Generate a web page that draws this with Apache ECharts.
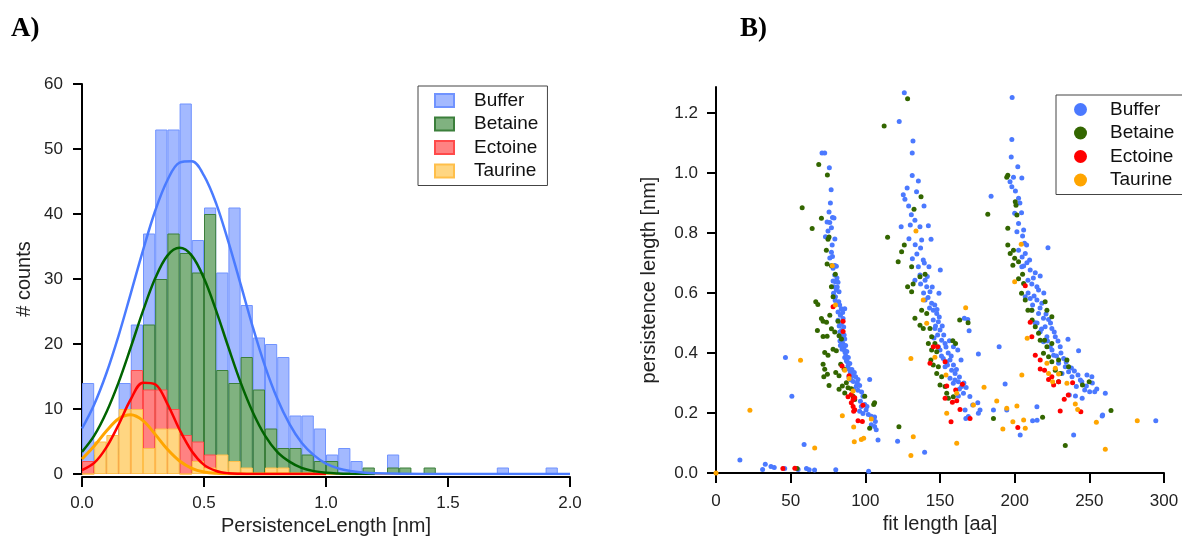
<!DOCTYPE html>
<html><head><meta charset="utf-8">
<script src="https://cdn.jsdelivr.net/npm/echarts@6/dist/echarts.min.js"></script>
<style>html,body{margin:0;padding:0;background:#fff}#c{width:1182px;height:536px}</style>
</head><body><div id="c"></div><script>
// ---------- Panel A: histogram (bin starts, width 0.05 nm) ----------
const binStarts = ['0.00','0.05','0.10','0.15','0.20','0.25','0.30','0.35','0.40','0.45',
  '0.50','0.55','0.60','0.65','0.70','0.75','0.80','0.85','0.90','0.95',
  '1.00','1.05','1.10','1.15','1.20','1.25','1.30','1.35','1.40','1.45',
  '1.50','1.55','1.60','1.65','1.70','1.75','1.80','1.85','1.90','1.95'];
const bufferCounts  = [14,4,5,14,23,37,53,53,57,36,41,31,41,26,21,20,18,9,9,7,3,4,2,0,0,3,0,0,0,0,0,0,0,0,1,0,0,0,1,0];
const betaineCounts = [1,3,4,7,12,23,30,37,34,31,40,16,14,18,13,7,4,4,3,2,2,0,0,1,0,1,1,0,1,0,0,0,0,0,0,0,0,0,0,0];
const ectoineCounts = [2,1,3,8,16,13,13,10,6,5,3,1,0,0,0,0,0,0,0,0,0,0,0,0,0,0,0,0,0,0,0,0,0,0,0,0,0,0,0,0];
const taurineCounts = [0,5,6,10,10,4,7,7,0,2,1,3,2,1,0,1,1,0,0,0,0,0,0,0,0,0,0,0,0,0,0,0,0,0,0,0,0,0,0,0];

// Gaussian fit curves at these x positions
const curveX      = [0,0.05,0.1,0.15,0.2,0.25,0.3,0.35,0.4,0.45,0.5,0.55,0.6,0.65,0.7,0.75,0.8,0.85,0.9,0.95,1.0,1.05,1.1,1.15,1.2,1.4,1.6,1.8,2.0];
const bufferFit   = [7.0,10.7,15.5,21.3,27.8,34.4,40.5,45.2,47.9,48.1,45.9,41.6,35.7,29.2,22.6,16.6,11.6,7.7,4.8,2.9,1.6,0.87,0.45,0.22,0.1,0,0,0,0];
const betaineFit  = [3.4,5.9,9.5,14.1,19.5,25.1,30.1,33.6,34.8,33.6,30.1,25.1,19.5,14.1,9.5,5.9,3.4,1.9,0.94,0.44,0.19,0.08,0.03,0.01,0];
const ectoineFit  = [0.6,1.7,4.1,7.6,11.5,14.05,13.8,10.8,6.8,3.5,1.4,0.47,0.12,0.03,0,0,0,0,0,0,0];
const taurineFit  = [2.3,4.3,6.6,8.5,9.1,8.2,6.1,3.8,2.0,0.88,0.32,0.1,0.03,0,0,0,0,0,0,0,0];

const histXTicks = [0,0.5,1.0,1.5,2.0];
const histYTicks = [0,10,20,30,40,50,60];

// ---------- Panel B: scatter [fit length (aa), persistence length (nm)] ----------
const bufferPts = [
[71,1.067],[72.8,1.067],[75.9,1.018],[77.1,0.944],[75.7,0.87],[78,0.852],[79,0.85],[74.4,0.837],[76.2,0.835],[77.3,0.818],[73.3,0.788],[75,0.807],[77.3,0.736],[78,0.722],[76.2,0.717],[79.5,0.692],[80.6,0.689],[78.4,0.683],[78.4,0.64],[80,0.638],[81.7,0.636],[79,0.621],[80.6,0.61],[82.4,0.604],[78.7,0.599],[80,0.588],[82.2,0.571],[83.9,0.548],[86.2,0.548],[81.7,0.537],[83.3,0.526],[85.1,0.515],[81.7,0.509],[83.9,0.498],[85.5,0.487],[82.9,0.47],[84.6,0.458],[86.2,0.447],[84,0.436],[85.1,0.43],[85.5,0.419],[83.3,0.425],[84.4,0.413],[86.4,0.402],[86.2,0.385],[87.3,0.374],[88.4,0.357],[89.1,0.346],[90,0.335],[91.8,0.324],[93.5,0.321],[95.1,0.312],[96.2,0.292],[94,0.29],[92.2,0.279],[95.1,0.276],[98.4,0.256],[96.7,0.239],[97.3,0.222],[99.6,0.228],[101.1,0.222],[96.2,0.206],[98.4,0.198],[102.9,0.312],[104,0.189],[105.1,0.183],[106.2,0.187],[104,0.161],[106.2,0.155],[107.3,0.144],[108.5,0.11],[106.7,0.172],
[84.5,0.44],[85,0.425],[83.8,0.45],[86,0.41],[87,0.39],[88,0.37],[90.5,0.31],[92,0.305],[89,0.32],
[79.5,0.66],[81,0.65],[81.2,0.62],[79.8,0.575],[82.8,0.56],[84.8,0.535],[82.5,0.49],[84.2,0.475],[85.8,0.46],[83,0.44],[86.8,0.425],[87.6,0.405],[88.6,0.385],[89.6,0.365],[91,0.345],[92.6,0.335],[94.6,0.3],[97.5,0.27],[100.5,0.21],[102,0.195],[77.8,0.76],[79.6,0.78],[76.6,0.9],
[46.5,0.385],[50.8,0.256],[59,0.095],[16,0.043],[31.2,0.012],[33,0.029],[36.8,0.022],[39,0.018],[46,0.015],[55,0.012],[60.6,0.015],[62.4,0.011],[66,0.01],[80.2,0.011],[102.2,0.006],
[126.1,1.268],[122.7,1.172],[131.9,1.107],[131.4,1.067],[131.4,0.992],[135.5,0.974],[125.4,0.928],[126.5,0.913],[134.3,0.938],[139.3,0.89],[130.8,0.861],[133.2,0.843],[124,0.821],[130.1,0.827],[136.6,0.821],[142.2,0.824],[129.2,0.781],[133.4,0.761],[137.7,0.777],[144,0.779],[131.5,0.714],[138.8,0.71],[135.5,0.688],[142.6,0.688],[150.2,0.677],[136.6,0.66],[140,0.643],[133.2,0.643],[141.1,0.621],[143.3,0.604],[149.3,0.599],[140,0.577],[144.4,0.566],[145.5,0.543],[147.8,0.532],[145.5,0.51],[148.9,0.504],[146.6,0.482],[150,0.477],[148.4,0.46],[151.1,0.443],[153.4,0.432],[150,0.41],[152.2,0.382],[154.5,0.371],[156.7,0.377],[153.4,0.354],[157.8,0.343],[160.1,0.332],[156.7,0.316],[162.3,0.304],[158.9,0.299],[164.5,0.288],[165.7,0.266],[162.3,0.257],[156.3,0.441],[159,0.421],[164.1,0.377],[161.9,0.41],[166.3,0.516],[168.6,0.512],[169.5,0.474],[166.8,0.21],[167.3,0.182],[169,0.188],[171.9,0.227],[175.3,0.234],[176.8,0.21],[175.7,0.199],[175.7,0.397],[121.6,0.106],[139.7,0.069],
[146,0.45],[149,0.42],[151,0.39],[155,0.36],[147,0.49],[143,0.55],[139,0.6],[137,0.63],[160,0.31],[163,0.28],
[134.5,0.73],[137,0.75],[139.5,0.7],[141.5,0.655],[144.8,0.62],[142,0.585],[146.5,0.56],[148,0.545],[149.5,0.52],[151.5,0.49],[152.5,0.46],[154,0.42],[155.5,0.4],[157.5,0.39],[159,0.36],[161,0.345],[163,0.32],[166,0.3],[167.5,0.285],[170,0.255],[129,0.89],[128,0.95],
[198.3,1.252],[198.1,1.112],[197.7,1.054],[202.1,1.021],[199.2,0.986],[204.8,0.984],[196.9,0.971],[198.1,0.954],[202.6,0.916],[200,0.866],[204.6,0.868],[202.6,0.832],[201.5,0.804],[205.3,0.79],[206.6,0.766],[202.6,0.743],[207.1,0.732],[208.2,0.701],[204.8,0.688],[210.4,0.677],[213.8,0.668],[217.1,0.657],[208.9,0.643],[211.5,0.63],[214.9,0.621],[207.1,0.588],[210.4,0.582],[214.9,0.577],[218.2,0.566],[211.5,0.543],[216,0.532],[219.3,0.516],[222.7,0.512],[213.6,0.501],[220.4,0.488],[224.9,0.482],[217.1,0.471],[221.6,0.454],[227.2,0.454],[219.3,0.438],[223.8,0.421],[230.5,0.421],[235.7,0.446],[226.1,0.393],[232.8,0.382],[229.4,0.366],[233.9,0.354],[236.1,0.338],[231.7,0.332],[238.4,0.321],[242.4,0.327],[242.8,0.408],[245,0.304],[248.4,0.327],[251.7,0.321],[241.3,0.288],[246.9,0.277],[250.2,0.271],[253.6,0.271],[236.6,0.26],[240.7,0.257],[245.2,0.249],[260.7,0.266],[258.9,0.193],[239.5,0.127],[214.9,0.221],[212,0.174],[185.8,0.21],[189.6,0.421],[193.6,0.297],[194.7,0.21],[203.7,0.127],[222.3,0.751],[184.2,0.923],[294.5,0.174],[258.6,0.19],[215,0.176],
[209,0.6],[212,0.56],[215,0.5],[218,0.48],[222,0.44],[225,0.41],[228,0.39],[205,0.72],[206,0.69],
[203.5,0.9],[206,0.81],[208,0.76],[210,0.71],[212.5,0.65],[216,0.61],[219.5,0.6],[213,0.59],[217,0.55],[221,0.53],[224,0.5],[226.5,0.47],[229,0.44],[231,0.4],[234.5,0.37],[238,0.35],[240,0.34],[244,0.31],[248,0.29],[252,0.3],[255,0.28],[200.5,0.94]];
const betainePts = [
[68.8,1.029],[74.6,0.994],[57.7,0.884],[70.6,0.849],[64.4,0.815],[75,0.779],[75.7,0.787],[73.9,0.743],[74.4,0.697],[77.3,0.691],[79.9,0.663],[77.3,0.621],[78.4,0.588],[66.8,0.571],[68.2,0.562],[70.6,0.515],[71.7,0.506],[74,0.503],[76.2,0.526],[67.9,0.475],[71.7,0.455],[74.4,0.456],[77.3,0.481],[79.5,0.47],[81.7,0.506],[82.4,0.458],[84,0.447],[72.8,0.402],[75,0.393],[78.4,0.413],[80.6,0.408],[71.7,0.363],[72.8,0.346],[74.6,0.329],[72.2,0.321],[80.2,0.335],[82.4,0.324],[83.5,0.363],[85.8,0.346],[75.7,0.292],[82.4,0.279],[84.6,0.29],[86.2,0.267],[87.3,0.301],[88.4,0.284],[90.6,0.281],[91.8,0.256],[92.9,0.245],[99.6,0.256],[102.9,0.149],[105.6,0.228],[106.2,0.234],[54.3,0.015],
[128.3,1.248],[112.6,1.157],[114.9,0.786],[124.3,0.738],[126.1,0.76],[132.6,0.879],[137.3,0.921],[122,0.704],[131,0.688],[128.3,0.621],[131,0.604],[136.6,0.654],[140,0.663],[132,0.63],[137.7,0.543],[141.1,0.532],[133.2,0.516],[136.6,0.493],[138.8,0.482],[143.3,0.482],[144.4,0.454],[142.2,0.432],[146.6,0.432],[144.4,0.41],[147.8,0.404],[143.9,0.377],[145.5,0.36],[148.9,0.354],[147.8,0.332],[151.1,0.321],[150,0.293],[153.4,0.288],[154.5,0.266],[155.6,0.249],[158.9,0.254],[163.2,0.51],[168.8,0.501],[158.6,0.441],[160.4,0.432],[185.8,0.182],[122.5,0.154],[218.7,0.186],[233.9,0.092],
[195.4,0.993],[194.7,0.986],[200.4,0.904],[200.9,0.893],[201.5,0.86],[195.4,0.816],[199.2,0.743],[197,0.732],[200,0.716],[195.4,0.76],[198.8,0.693],[202.6,0.704],[205.3,0.663],[202.6,0.648],[206,0.632],[204.6,0.599],[207.1,0.577],[208.9,0.543],[211.5,0.543],[211.7,0.51],[213.8,0.488],[216,0.466],[217.1,0.443],[220,0.443],[221.6,0.421],[224.9,0.432],[219.3,0.399],[222.7,0.388],[224.9,0.371],[229.4,0.377],[227.2,0.343],[230.5,0.332],[235,0.377],[236.1,0.354],[221.6,0.543],[224.9,0.521],[220.4,0.571],[229.4,0.304],[245.4,0.293],[249.9,0.304],[264.5,0.208],[182,0.863]];
const ectoinePts = [
[78.4,0.554],[85.1,0.506],[85.1,0.472],[84.4,0.357],[89.1,0.324],[88.4,0.254],[90.6,0.262],[91.8,0.245],[92.9,0.251],[90.6,0.234],[91.8,0.222],[92.9,0.211],[92.2,0.206],[95.1,0.174],[98,0.172],[98.4,0.226],[44.8,0.015],[52.8,0.016],
[145.5,0.421],[148.4,0.421],[143.3,0.366],[153.4,0.371],[154.5,0.29],[160.5,0.277],[165,0.296],[153.4,0.249],[158.3,0.236],[161.2,0.241],[163.4,0.212],[157.4,0.171],[170.1,0.182],[202.1,0.152],
[207.1,0.624],[210.4,0.503],[211.5,0.454],[213.8,0.393],[217.1,0.377],[217.1,0.347],[220,0.343],[222.7,0.312],[224.9,0.321],[226.1,0.293],[229.4,0.304],[233.2,0.246],[235.9,0.26],[244.3,0.204],[238.8,0.301],[230.5,0.207]];
const taurinePts = [
[77.9,0.691],[80,0.56],[86.2,0.343],[89.1,0.315],[91.8,0.273],[84.6,0.191],[92.2,0.153],[92.6,0.104],[97.3,0.112],[98.9,0.116],[104,0.18],[56.6,0.376],[22.7,0.209],[66.1,0.083],[0,0],
[133.9,0.807],[138.8,0.577],[141.1,0.499],[130.5,0.382],[146.6,0.386],[154,0.327],[161.2,0.266],[154.5,0.199],[167.2,0.551],[132.1,0.121],[130.5,0.058],[161.2,0.099],[172.4,0.227],[179.5,0.286],[188,0.24],[192.1,0.147],[194.7,0.216],[198.8,0.171],[201.5,0.223],[206,0.177],[207.1,0.149],
[204.4,0.763],[200,0.638],[208.4,0.449],[221.6,0.366],[222.7,0.332],[227.2,0.349],[229.4,0.33],[235,0.299],[240.6,0.23],[242.2,0.212],[254.7,0.169],[260.7,0.079],[204.8,0.327],[225.4,0.304],[282.1,0.174]];

const scatterXTicks = [0,50,100,150,200,250,300];
const scatterYTicks = [0,0.2,0.4,0.6,0.8,1.0,1.2];

// ---------- chart ----------
const FONT = 'Liberation Sans, Arial, sans-serif';
const chart = echarts.init(document.getElementById('c'), null, {renderer:'canvas'});

function barSeries(name, data, fill, edge, z){
  return {type:'bar', name, data, xAxisIndex:0, yAxisIndex:0, barGap:'-100%', barCategoryGap:'0%',
    itemStyle:{color:fill, borderColor:edge, borderWidth:1}, z, animation:false};
}
function fitSeries(name, vals, color, w){
  return {type:'line', name, xAxisIndex:1, yAxisIndex:0, data: vals.map((v,i)=>[curveX[i], v]),
    showSymbol:false, symbol:'none', smooth:0.35, lineStyle:{color, width:w}, z:10, animation:false, silent:true};
}
function ptsSeries(name, data, color){
  return {type:'scatter', name, data, xAxisIndex:2, yAxisIndex:1, symbolSize:5,
    itemStyle:{color, opacity:1}, animation:false};
}
const axisLine = {show:true, lineStyle:{color:'#000', width:2}};
const axisTick = {show:true, length:9, lineStyle:{color:'#000', width:2}};
const lbl = {fontSize:17, color:'#222', fontFamily:FONT};
const nameStyle = {fontSize:20, color:'#222', fontFamily:FONT};
const legText = {fontSize:19, color:'#111', fontFamily:FONT, lineHeight:19};

const option = {
  animation:false,
  backgroundColor:'#fff',
  grid:[
    {left:82, right:612, top:84, bottom:62, outerBoundsMode:'none', containLabel:false},
    {left:716, right:18, top:87, bottom:63, outerBoundsMode:'none', containLabel:false}
  ],
  xAxis:[
    {type:'category', gridIndex:0, position:'bottom', data:binStarts, show:false, boundaryGap:true},
    {type:'value', gridIndex:0, position:'bottom', min:0, max:2, interval:0.5, offset:3,
      axisLine, axisTick:{...axisTick, length:10, customValues:histXTicks},
      axisLabel:{...lbl, margin:18, customValues:histXTicks, formatter:v=>v.toFixed(1)},
      splitLine:{show:false},
      name:'PersistenceLength [nm]', nameLocation:'middle', nameGap:36, nameTextStyle:nameStyle},
    {type:'value', gridIndex:1, position:'bottom', min:0, max:300, interval:50, offset:3,
      axisLine, axisTick:{...axisTick, length:10, customValues:scatterXTicks},
      axisLabel:{...lbl, margin:17, customValues:scatterXTicks},
      splitLine:{show:false},
      name:'fit length [aa]', nameLocation:'middle', nameGap:36, nameTextStyle:nameStyle}
  ],
  yAxis:[
    {type:'value', gridIndex:0, position:'left', min:0, max:60, interval:10, offset:2,
      axisLine, axisTick:{...axisTick, customValues:histYTicks},
      axisLabel:{...lbl, margin:17, customValues:histYTicks},
      splitLine:{show:false},
      name:'# counts', nameLocation:'middle', nameGap:46, nameTextStyle:nameStyle},
    {type:'value', gridIndex:1, position:'left', min:0, max:1.287, offset:4,
      axisLine, axisTick:{...axisTick, customValues:scatterYTicks},
      axisLabel:{...lbl, margin:14, customValues:scatterYTicks, formatter:v=>v.toFixed(1)},
      splitLine:{show:false},
      name:'persistence length [nm]', nameLocation:'middle', nameGap:53, nameTextStyle:nameStyle}
  ],
  legend:[
    {left:418, top:86, orient:'vertical', selectedMode:false,
      data:[{name:'Buffer',icon:'rect'},{name:'Betaine',icon:'rect'},{name:'Ectoine',icon:'rect'},{name:'Taurine',icon:'rect'}],
      itemWidth:19, itemHeight:13, itemGap:4.5, padding:[5,9,5,16],
      backgroundColor:'#fff', borderColor:'#444', borderWidth:1, borderRadius:0,
      textStyle:{...legText, padding:[0,0,0,15]}},
    {left:1056, top:95, orient:'vertical', selectedMode:false,
      data:[{name:'S:Buffer',icon:'circle'},{name:'S:Betaine',icon:'circle'},{name:'S:Ectoine',icon:'circle'},{name:'S:Taurine',icon:'circle'}],
      formatter:n=>n.slice(2),
      itemWidth:13, itemHeight:13, itemGap:4.5, padding:[5,40,5,18],
      backgroundColor:'#fff', borderColor:'#444', borderWidth:1, borderRadius:0,
      textStyle:{...legText, padding:[0,0,0,18]}}
  ],
  graphic:[
    {type:'text', left:11, top:16, style:{text:'A)', font:'bold 27px "Liberation Serif", "DejaVu Serif", serif', fill:'#000'}},
    {type:'text', left:740, top:16, style:{text:'B)', font:'bold 27px "Liberation Serif", "DejaVu Serif", serif', fill:'#000'}}
  ],
  series:[
    barSeries('Buffer', bufferCounts, '#a3b9ff', '#7093ff', 2),
    barSeries('Betaine', betaineCounts, '#80b280', '#3b7f3b', 3),
    barSeries('Ectoine', ectoineCounts, '#ff8282', '#ff4a4a', 4),
    barSeries('Taurine', taurineCounts, '#ffd682', '#ffbf4a', 5),
    fitSeries('fitTaurine', taurineFit, '#ffa500', 3),
    fitSeries('fitEctoine', ectoineFit, '#ff0000', 2.5),
    fitSeries('fitBetaine', betaineFit, '#006400', 2.5),
    fitSeries('fitBuffer', bufferFit, '#4a7bff', 2.5),
    ptsSeries('S:Buffer', bufferPts, '#4b79ff'),
    ptsSeries('S:Betaine', betainePts, '#336600'),
    ptsSeries('S:Ectoine', ectoinePts, '#ff0000'),
    ptsSeries('S:Taurine', taurinePts, '#ffa500')
  ]
};
chart.setOption(option);
</script></body></html>
